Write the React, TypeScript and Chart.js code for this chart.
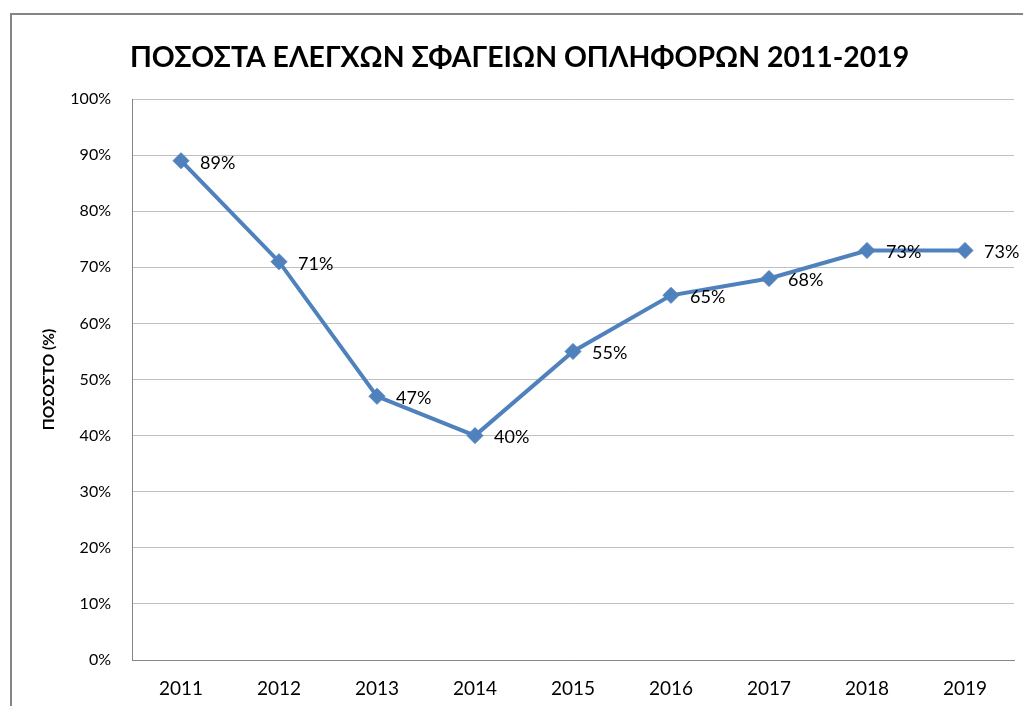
import React, { useEffect, useRef } from "react";
import { Chart, registerables } from "chart.js";

Chart.register(...registerables);

const titleText = "ΠΟΣΟΣΤΑ ΕΛΕΓΧΩΝ ΣΦΑΓΕΙΩΝ ΟΠΛΗΦΟΡΩΝ 2011-2019";
const yAxisTitle = "ΠΟΣΟΣΤΟ (%)";
const years = ["2011", "2012", "2013", "2014", "2015", "2016", "2017", "2018", "2019"];
const percentages = [89, 71, 47, 40, 55, 65, 68, 73, 73];

const FONT = "Lato, 'Noto Sans', sans-serif";

const framePlugin = {
  id: "frameAndTitle",
  beforeDraw(chart: any) {
    const ctx = chart.ctx;
    ctx.save();
    ctx.fillStyle = "#ffffff";
    ctx.fillRect(0, 0, chart.width, chart.height);
    ctx.strokeStyle = "#858585";
    ctx.lineWidth = 2;
    ctx.beginPath();
    ctx.moveTo(11, chart.height);
    ctx.lineTo(11, 14);
    ctx.lineTo(chart.width, 14);
    ctx.stroke();
    ctx.restore();
  },
  afterDraw(chart: any) {
    const ctx = chart.ctx;
    const area = chart.chartArea;
    ctx.save();
    ctx.fillStyle = "#000000";
    ctx.font = `bold 28.4px ${FONT}`;
    ctx.textAlign = "left";
    ctx.textBaseline = "middle";
    ctx.fillText(titleText, area.left - 2, 58);

    ctx.font = `18px ${FONT}`;
    const meta = chart.getDatasetMeta(0);
    meta.data.forEach((pt: any, i: number) => {
      ctx.fillText(percentages[i] + "%", pt.x + 19, pt.y + 2);
    });
    ctx.restore();
  },
};

export default function App() {
  const ref = useRef<HTMLCanvasElement>(null);
  useEffect(() => {
    if (!ref.current) return;
    const chart = new Chart(ref.current, {
      type: "line",
      data: {
        labels: years,
        datasets: [
          {
            data: percentages,
            borderColor: "#4F81BD",
            backgroundColor: "#4F81BD",
            borderWidth: 4,
            pointStyle: "rectRot",
            pointRadius: 8,
            pointBorderWidth: 1,
            pointBackgroundColor: "#4F81BD",
            pointBorderColor: "#4F81BD",
            tension: 0,
          },
        ],
      },
      options: {
        animation: false,
        responsive: false,
        maintainAspectRatio: false,
        layout: { padding: { top: 99, right: 8, left: 0, bottom: 0 } },
        plugins: {
          legend: { display: false },
          title: { display: false },
          tooltip: { enabled: false },
        },
        scales: {
          x: {
            offset: true,
            grid: { display: false, drawTicks: false },
            border: { color: "#868686", width: 1 },
            ticks: {
              color: "#000000",
              font: { family: FONT, size: 19 },
              padding: 17,
            },
            afterFit(scale: any) {
              scale.height = 46;
            },
          },
          y: {
            min: 0,
            max: 100,
            grid: { color: "#c0c0c0", drawTicks: false },
            border: { color: "#868686", width: 1 },
            ticks: {
              stepSize: 10,
              color: "#000000",
              font: { family: FONT, size: 16 },
              padding: 21,
              callback: (v: any) => v + "%",
            },
            title: {
              display: true,
              text: yAxisTitle,
              color: "#000000",
              font: { family: FONT, size: 15.5, weight: "bold" },
              padding: { top: 40, bottom: 0 },
            },
            afterFit(scale: any) {
              scale.width = 132;
            },
          },
        },
      } as any,
      plugins: [framePlugin],
    });
    return () => chart.destroy();
  }, []);
  return (
    <canvas
      ref={ref}
      width={1023}
      height={706}
      style={{ position: "fixed", left: 0, top: 0, width: 1023, height: 706 }}
    />
  );
}
